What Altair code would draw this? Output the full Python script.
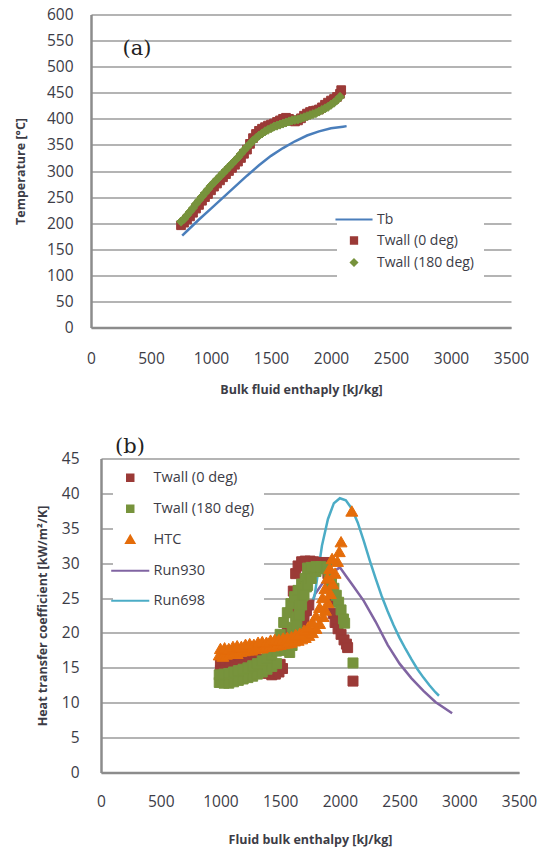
import altair as alt
import pandas as pd

# ---------------- panel (a) data ----------------
a_tb_h = [760, 800, 900, 1000, 1100, 1200, 1300, 1400, 1500, 1600, 1700, 1800, 1900, 2000, 2100, 2130]
a_tb_t = [176, 185, 207, 228, 249, 270, 291, 311, 329, 344, 357, 368, 376, 382, 385, 386]

a_w0_h = [750, 775, 800, 825, 850, 875, 900, 925, 950, 975, 1000, 1025, 1050, 1075, 1100, 1125, 1150, 1175,
          1200, 1225, 1250, 1275, 1300, 1325, 1350, 1375, 1400, 1425, 1450, 1475, 1500, 1525, 1550, 1575,
          1600, 1625, 1650, 1675, 1700, 1725, 1750, 1775, 1800, 1825, 1850, 1875, 1900, 1925, 1950, 1975,
          2000, 2025, 2050, 2075, 2085]
a_w0_t = [196, 201, 207, 213, 220, 228, 235, 243, 250, 256, 263, 270, 276, 282, 288, 294, 300, 306,
          312, 318, 325, 333, 341, 352, 363, 371, 377, 381, 384, 387, 389, 391, 394, 397,
          400, 402, 400, 397, 395, 397, 401, 406, 410, 413, 415, 416, 418, 422, 427, 431,
          435, 438, 442, 448, 455]

a_w180_h = [750, 775, 800, 825, 850, 875, 900, 925, 950, 975, 1000, 1025, 1050, 1075, 1100, 1125, 1150, 1175,
            1200, 1225, 1250, 1275, 1300, 1325, 1350, 1375, 1400, 1425, 1450, 1475, 1500, 1525, 1550, 1575,
            1600, 1625, 1650, 1675, 1700, 1725, 1750, 1775, 1800, 1825, 1850, 1875, 1900, 1925, 1950, 1975,
            2000, 2025, 2050, 2075]
a_w180_t = [203, 208, 215, 222, 229, 237, 244, 251, 258, 265, 272, 278, 284, 290, 296, 302, 308, 314,
            320, 326, 333, 340, 346, 352, 358, 363, 368, 372, 376, 379, 382, 385, 387, 389,
            391, 393, 395, 397, 398, 399, 401, 403, 405, 407, 409, 411, 414, 417, 420, 423,
            427, 431, 436, 442]

# ---------------- panel (b) data ----------------
b_r930_h = [1650, 1700, 1750, 1790, 1850, 1900, 1950, 2000, 2050, 2100, 2200, 2300, 2400, 2500, 2600, 2700, 2800, 2940]
b_r930_v = [19.5, 21.0, 23.0, 25.5, 27.0, 28.0, 28.8, 29.4, 28.2, 27.0, 24.6, 21.6, 18.3, 15.6, 13.5, 11.7, 10.1, 8.5]

b_r698_h = [1650, 1700, 1750, 1790, 1820, 1850, 1900, 1950, 2000, 2050, 2100, 2150, 2200, 2250, 2300, 2350,
            2400, 2450, 2500, 2550, 2600, 2650, 2700, 2750, 2800, 2830]
b_r698_v = [20.0, 21.6, 23.5, 25.5, 29.0, 32.5, 36.3, 38.6, 39.3, 39.0, 37.8, 35.8, 33.2, 30.4, 27.8, 25.3,
            23.1, 21.1, 19.3, 17.7, 16.2, 14.8, 13.6, 12.5, 11.5, 11.0]

b_w0_h = [1000, 1040, 1080, 1120, 1160, 1200, 1240, 1280, 1320,
          1000, 1040, 1080, 1120, 1160, 1200, 1240, 1280,
          1340, 1370, 1400, 1430, 1460, 1490, 1520, 1400, 1450, 1500,
          1560, 1590, 1610, 1630, 1650, 1680, 1710,
          1750, 1780, 1810, 1840, 1870, 1890,
          1660, 1680, 1700, 1720, 1740,
          1900, 1915, 1930, 1945, 1960, 1985, 2010, 2035, 2055, 2065,
          2110]
b_w0_v = [15.5, 15.3, 15.6, 15.8, 16.0, 16.1, 16.3, 16.4, 16.2,
          14.6, 14.7, 14.9, 15.1, 15.3, 15.4, 15.6, 15.7,
          15.2, 14.6, 14.2, 14.0, 14.1, 14.4, 14.9, 15.0, 14.9, 15.5,
          20.0, 23.0, 26.0, 28.5, 29.6, 30.2, 30.3,
          30.3, 30.2, 30.1, 30.0, 30.1, 29.8,
          20.5, 21.3, 22.2, 23.2, 24.0,
          28.5, 26.5, 24.5, 22.8, 21.5, 20.6, 19.8, 19.0, 18.4, 17.9,
          13.1]

b_w180_h = [990, 1030, 1070, 1110, 1150, 1190, 1230, 1270, 1310, 1350, 1390, 1430, 1470,
            990, 1030, 1070, 1110, 1150, 1190, 1230, 1270, 1310, 1350, 1390, 1430, 1470, 1510,
            1480, 1500, 1530, 1560, 1590, 1620, 1650, 1680, 1710, 1740,
            1540, 1570, 1600, 1630, 1660, 1690, 1720, 1750, 1780,
            1580, 1600, 1620, 1640, 1660, 1680, 1700, 1730, 1760, 1800, 1840,
            1730, 1760, 1800, 1840, 1870, 1890,
            1910, 1930, 1950, 1970, 1990, 2010, 2030, 2040,
            2110]
b_w180_v = [12.9, 12.8, 12.8, 13.0, 13.2, 13.4, 13.6, 13.8, 14.1, 14.4, 14.8, 15.2, 15.6,
            14.0, 14.1, 14.2, 14.4, 14.6, 14.8, 15.0, 15.3, 15.6, 16.0, 16.4, 16.9, 17.4, 17.9,
            18.0, 19.8, 21.5, 22.9, 24.2, 25.2, 26.1, 27.0, 27.8, 28.6,
            17.5, 19.2, 20.8, 22.3, 23.8, 25.3, 26.6, 27.8, 28.8,
            17.2, 18.2, 19.5, 21.0, 22.5, 24.0, 25.5, 26.8, 27.8, 28.8, 29.2,
            29.3, 29.4, 29.5, 29.5, 29.4, 29.2,
            28.3, 27.3, 26.4, 25.4, 24.4, 23.3, 22.0, 21.4,
            15.7]

b_htc_h = [990, 1020, 1050, 1080, 1110, 1140, 1170, 1200, 1230, 1260, 1290, 1320, 1350, 1380, 1410, 1440,
           1470, 1500, 1530, 1560, 1590, 1620, 1650, 1680, 1710, 1740, 1770, 1800, 1830, 1860, 1880, 1900,
           1920, 1940, 1960, 1980, 1995, 2010,
           1000, 1035, 1070, 1105, 1140, 1175, 1210, 1245, 1280, 1315, 1350, 1385, 1420, 1455, 1490, 1525,
           1560, 1595, 1630, 1665, 1700, 1735, 1770, 1800, 1830, 1855, 1875, 1895, 1915, 1935,
           2100]
b_htc_v = [16.8, 16.6, 16.9, 17.0, 17.1, 17.0, 17.3, 17.4, 17.5, 17.5, 17.7, 17.8, 17.8, 18.0, 18.0, 18.1,
           18.2, 18.3, 18.4, 18.5, 18.6, 18.8, 18.9, 19.1, 19.3, 19.6, 20.0, 20.6, 21.3, 22.3, 23.2, 24.3,
           25.6, 27.0, 28.5, 30.2, 31.6, 33.0,
           17.7, 17.8, 17.7, 18.0, 18.1, 18.0, 18.3, 18.4, 18.3, 18.6, 18.7, 18.6, 18.9, 19.0, 19.0, 19.2,
           19.3, 19.4, 19.7, 19.9, 20.3, 20.8, 21.5, 22.4, 23.6, 25.0, 26.3, 27.8, 29.2, 30.6,
           37.4]

X_TICKS = [0, 500, 1000, 1500, 2000, 2500, 3000, 3500]
YA_TICKS = [0, 50, 100, 150, 200, 250, 300, 350, 400, 450, 500, 550, 600]
YB_TICKS = [0, 5, 10, 15, 20, 25, 30, 35, 40, 45]

A_SERIES = ["Tb", "Twall (0 deg)", "Twall (180 deg)"]
A_COLORS = ["#4a7ebb", "#9b3a37", "#77933c"]
B_SERIES = ["Twall (0 deg)", "Twall (180 deg)", "HTC", "Run930", "Run698"]
B_COLORS = ["#9b3a37", "#77933c", "#e46c0a", "#8064a2", "#4bacc6"]

LINE_PATH = "M-5,0H5"
SQUARE = "M-0.85,-0.85H0.85V0.85H-0.85Z"
DIAMOND = "M0,-0.85L0.85,0L0,0.85L-0.85,0Z"
TRIANGLE = "M0,-1.05L1.1,0.85L-1.1,0.85Z"

FONT = "Open Sans"
TXT = "#3c3c46"
GRID = "#b4b4b4"
DOMAIN = "#8c8c8c"


def frame(h, v, name):
    return pd.DataFrame({"h": h, "v": v, "s": name})


def x_axis(title, label_pad, title_pad):
    return alt.Axis(values=X_TICKS, format="d", title=title, grid=False, ticks=False,
                    domainColor=DOMAIN, domainWidth=2.5, labelPadding=label_pad, labelFlush=False,
                    labelOverlap=False, labelFont=FONT, labelFontSize=15.5, labelColor=TXT,
                    titleFont=FONT, titleFontSize=12.5, titleFontWeight="bold", titleColor=TXT,
                    titlePadding=title_pad)


def y_axis(values, title, label_pad, title_pad):
    return alt.Axis(values=values, format="d", title=title, grid=True, gridColor=GRID, gridWidth=2,
                    ticks=False, domainColor=DOMAIN, domainWidth=2.5, labelPadding=label_pad,
                    labelOverlap=False, labelFont=FONT, labelFontSize=15.5, labelColor=TXT,
                    titleFont=FONT, titleFontSize=12.5, titleFontWeight="bold", titleColor=TXT,
                    titlePadding=title_pad)


# ---------------- panel (a) ----------------
df_a_tb = frame(a_tb_h, a_tb_t, "Tb")
df_a_w0 = frame(a_w0_h, a_w0_t, "Twall (0 deg)")
df_a_w180 = frame(a_w180_h, a_w180_t, "Twall (180 deg)")
df_a_lab = pd.DataFrame({"h": [383], "v": [533], "t": ["(a)"]})


def leg_a():
    return alt.Legend(title=None, orient="none", legendX=246, legendY=188, fillColor="white",
                      padding=10, symbolSize=55, symbolStrokeWidth=2, labelFont=FONT,
                      labelFontSize=14, labelColor=TXT, rowPadding=6, labelOffset=16)


xa = alt.X("h:Q", scale=alt.Scale(domain=[0, 3500], nice=False, zero=False),
           axis=x_axis("Bulk fluid enthaply [kJ/kg]", 24, 16))
ya = alt.Y("v:Q", scale=alt.Scale(domain=[0, 600], nice=False, zero=False),
           axis=y_axis(YA_TICKS, "Temperature [°C]", 18, 19))
fill_a = alt.Fill("s:N", scale=alt.Scale(domain=A_SERIES, range=A_COLORS), legend=leg_a())
stroke_a = alt.Stroke("s:N", scale=alt.Scale(domain=A_SERIES, range=A_COLORS), legend=leg_a())
shape_a = alt.Shape("s:N", scale=alt.Scale(domain=A_SERIES, range=[LINE_PATH, SQUARE, DIAMOND]), legend=leg_a())

a_line = alt.Chart(df_a_tb).mark_line(strokeWidth=2.5).encode(x=xa, y=ya, stroke=stroke_a)
a_p0 = alt.Chart(df_a_w0).mark_point(filled=True, size=105, strokeWidth=1, opacity=1).encode(
    x=xa, y=ya, fill=fill_a, stroke=stroke_a, shape=shape_a)
a_p180 = alt.Chart(df_a_w180).mark_point(filled=True, size=115, strokeWidth=1, opacity=1).encode(
    x=xa, y=ya, fill=fill_a, stroke=stroke_a, shape=shape_a)
a_txt = alt.Chart(df_a_lab).mark_text(font="DejaVu Serif", fontSize=21, color="#222222",
                                      align="center", baseline="middle").encode(x=xa, y=ya, text="t:N")

panel_a = alt.layer(a_line, a_p0, a_p180, a_txt).properties(width=420, height=313)

# ---------------- panel (b) ----------------
df_b_lines = pd.concat([frame(b_r930_h, b_r930_v, "Run930"), frame(b_r698_h, b_r698_v, "Run698")])
df_b_w0 = frame(b_w0_h, b_w0_v, "Twall (0 deg)")
df_b_w180 = frame(b_w180_h, b_w180_v, "Twall (180 deg)")
df_b_htc = frame(b_htc_h, b_htc_v, "HTC")
df_b_lab = pd.DataFrame({"h": [243], "v": [46.6], "t": ["(b)"]})


def leg_b():
    return alt.Legend(title=None, orient="none", legendX=22, legendY=2, fillColor="white",
                      padding=10, symbolSize=58, symbolStrokeWidth=2, labelFont=FONT,
                      labelFontSize=14.5, labelColor=TXT, rowPadding=15, labelOffset=16)


xb = alt.X("h:Q", scale=alt.Scale(domain=[0, 3500], nice=False, zero=False),
           axis=x_axis("Fluid bulk enthalpy [kJ/kg]", 22, 23))
yb = alt.Y("v:Q", scale=alt.Scale(domain=[0, 45], nice=False, zero=False),
           axis=y_axis(YB_TICKS, "Heat transfer coefficient  [kW/m²/K]", 22, 12))
fill_b = alt.Fill("s:N", scale=alt.Scale(domain=B_SERIES, range=B_COLORS), legend=leg_b())
stroke_b = alt.Stroke("s:N", scale=alt.Scale(domain=B_SERIES, range=B_COLORS), legend=leg_b())
shape_b = alt.Shape("s:N", scale=alt.Scale(domain=B_SERIES,
                                           range=[SQUARE, SQUARE, TRIANGLE, LINE_PATH, LINE_PATH]),
                    legend=leg_b())

b_lines = alt.Chart(df_b_lines).mark_line(strokeWidth=2.5).encode(x=xb, y=yb, stroke=stroke_b)
b_p0 = alt.Chart(df_b_w0).mark_point(filled=True, size=138, strokeWidth=1, opacity=1).encode(
    x=xb, y=yb, fill=fill_b, stroke=stroke_b, shape=shape_b)
b_p180 = alt.Chart(df_b_w180).mark_point(filled=True, size=138, strokeWidth=1, opacity=1).encode(
    x=xb, y=yb, fill=fill_b, stroke=stroke_b, shape=shape_b)
b_phtc = alt.Chart(df_b_htc).mark_point(filled=True, size=119, strokeWidth=1, opacity=1).encode(
    x=xb, y=yb, fill=fill_b, stroke=stroke_b, shape=shape_b)
b_txt = alt.Chart(df_b_lab).mark_text(font="DejaVu Serif", fontSize=21, color="#222222",
                                      align="center", baseline="middle").encode(x=xb, y=yb, text="t:N")

panel_b = alt.layer(b_lines, b_p0, b_p180, b_phtc, b_txt).properties(width=418, height=314)

spacer = alt.Chart(pd.DataFrame({"z": [0]})).mark_point(opacity=0).encode(
    x=alt.value(0), y=alt.value(0)).properties(width=1, height=1)
row_b = alt.hconcat(spacer, panel_b, spacing=9, bounds="flush")

chart = alt.vconcat(panel_a, row_b, spacing=131, bounds="flush").resolve_scale(
    x="independent", y="independent", fill="independent", stroke="independent", shape="independent"
).resolve_legend(fill="independent", stroke="independent", shape="independent").configure_view(
    strokeWidth=0).properties(padding={"left": 14, "top": 7.5, "right": 2, "bottom": 2}, background="white")

chart.save("out.html", embed_options={"renderer": "svg", "actions": False})
